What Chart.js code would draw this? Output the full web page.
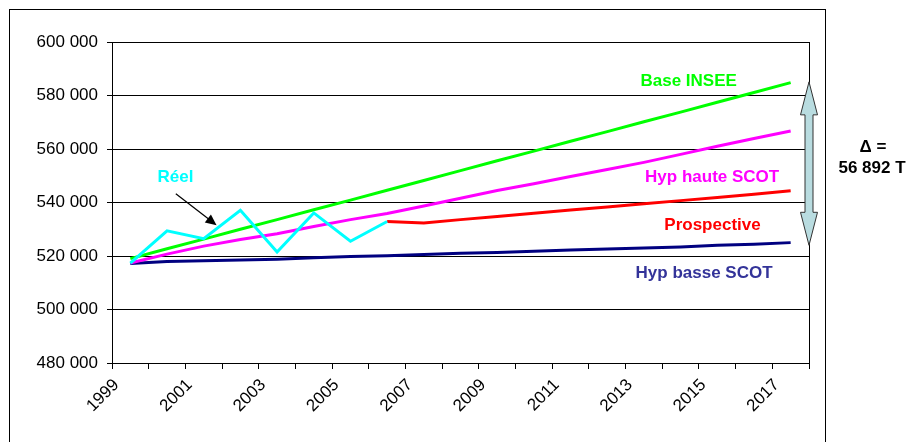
<!DOCTYPE html>
<html>
<head>
<meta charset="utf-8">
<script src="https://cdn.jsdelivr.net/npm/chart.js@4.4.0/dist/chart.umd.min.js"></script>
<style>
  html, body { margin: 0; padding: 0; background: #fff; }
  #wrap { width: 908px; height: 442px; position: relative; }
</style>
</head>
<body>
<div id="wrap"><canvas id="chart"></canvas></div>
<script>
// years on the x axis
const years = ['1999','2000','2001','2002','2003','2004','2005','2006','2007','2008',
               '2009','2010','2011','2012','2013','2014','2015','2016','2017'];

// series
const reel        = [517300, 529400, 526500, 537100, 521500, 536100, 525500, 532900,
                     null, null, null, null, null, null, null, null, null, null, null];
const prospective = [null, null, null, null, null, null, null, 532900, 532300, 533600,
                     534800, 536000, 537200, 538300, 539500, 540700, 541900, 543100, 544400];
const baseInsee   = [519000, 522700, 526300, 530000, 533600, 537300, 540900, 544600, 548200, 551900,
                     555600, 559200, 562900, 566500, 570200, 573800, 577500, 581100, 584800];
const hypHaute    = [517400, 520700, 523700, 526200, 528300, 531000, 533600, 535900, 538700, 541600,
                     544500, 547000, 549700, 552300, 555000, 558000, 561000, 563900, 566700];
const hypBasse    = [517200, 517900, 518200, 518500, 518800, 519300, 519800, 520100, 520600, 521000,
                     521300, 521800, 522200, 522600, 523000, 523400, 524000, 524400, 525000];

const yMin = 480000, yMax = 600000, yStep = 20000;
const deltaText = ['\u0394 =', '56 892 T'];

const FONT = '"Liberation Sans", Arial, sans-serif';

// series names drawn inside the plot (x = category index, y = value)
const seriesLabels = [
  { text: 'R\u00e9el',          x: 1.23,  y: 549400, color: '#00FFFF' },
  { text: 'Base INSEE',     x: 15.22, y: 585400, color: '#00FF00' },
  { text: 'Hyp haute SCOT', x: 15.86, y: 549400, color: '#FF00FF' },
  { text: 'Prospective',    x: 15.87, y: 531500, color: '#FF0000' },
  { text: 'Hyp basse SCOT', x: 15.64, y: 513500, color: '#333399' }
];

const fmt = v => String(v).replace(/\B(?=(\d{3})+(?!\d))/g, ' ');

const overlay = {
  id: 'overlay',
  beforeDraw(chart) {
    const ctx = chart.ctx;
    ctx.save();
    ctx.fillStyle = '#fff';
    ctx.fillRect(0, 0, chart.width, chart.height);
    ctx.strokeStyle = '#000';
    ctx.lineWidth = 1;
    ctx.strokeRect(9.5, 9.5, 816, 460);
    ctx.restore();
  },
  afterDatasetsDraw(chart) {
    const ctx = chart.ctx;
    const xs = chart.scales.x, ys = chart.scales.y;
    const a = chart.chartArea;
    ctx.save();
    // plot frame
    ctx.strokeStyle = '#000';
    ctx.lineWidth = 1;
    ctx.strokeRect(Math.round(a.left) + 0.5, Math.round(a.top) + 0.5,
                   Math.round(a.right - a.left), Math.round(a.bottom - a.top));

    // series names
    ctx.font = 'bold 17px ' + FONT;
    ctx.textAlign = 'center';
    ctx.textBaseline = 'middle';
    seriesLabels.forEach(l => {
      ctx.fillStyle = l.color;
      ctx.fillText(l.text, xs.getPixelForValue(l.x), ys.getPixelForValue(l.y));
    });

    // arrow pointing at the real series
    const x0 = xs.getPixelForValue(1.24), y0 = ys.getPixelForValue(543300);
    const x1 = xs.getPixelForValue(2.35), y1 = ys.getPixelForValue(531500);
    const ang = Math.atan2(y1 - y0, x1 - x0);
    ctx.strokeStyle = '#000';
    ctx.fillStyle = '#000';
    ctx.lineWidth = 1.2;
    ctx.beginPath();
    ctx.moveTo(x0, y0);
    ctx.lineTo(x1 - 8 * Math.cos(ang), y1 - 8 * Math.sin(ang));
    ctx.stroke();
    ctx.beginPath();
    ctx.moveTo(x1, y1);
    ctx.lineTo(x1 - 11 * Math.cos(ang) + 5 * Math.sin(ang), y1 - 11 * Math.sin(ang) - 5 * Math.cos(ang));
    ctx.lineTo(x1 - 11 * Math.cos(ang) - 5 * Math.sin(ang), y1 - 11 * Math.sin(ang) + 5 * Math.cos(ang));
    ctx.closePath();
    ctx.fill();

    // double arrow for the gap between the hypotheses in 2017
    const cx = a.right;
    const top = ys.getPixelForValue(585100), bot = ys.getPixelForValue(524000);
    const hw = 8.5, sw = 4, hl = 33;
    ctx.beginPath();
    ctx.moveTo(cx, top);
    ctx.lineTo(cx + hw, top + hl);
    ctx.lineTo(cx + sw, top + hl);
    ctx.lineTo(cx + sw, bot - hl);
    ctx.lineTo(cx + hw, bot - hl);
    ctx.lineTo(cx, bot);
    ctx.lineTo(cx - hw, bot - hl);
    ctx.lineTo(cx - sw, bot - hl);
    ctx.lineTo(cx - sw, top + hl);
    ctx.lineTo(cx - hw, top + hl);
    ctx.closePath();
    ctx.fillStyle = '#B9DCE0';
    ctx.fill();
    ctx.strokeStyle = '#333';
    ctx.lineWidth = 1;
    ctx.stroke();

    // delta text
    ctx.fillStyle = '#000';
    ctx.font = 'bold 17px ' + FONT;
    ctx.fillText(deltaText[0], 873, 147);
    ctx.fillText(deltaText[1], 872, 168);
    ctx.restore();
  }
};

const line = (data, color) => ({
  data, borderColor: color, backgroundColor: color, borderWidth: 3,
  pointRadius: 0, tension: 0, fill: false, spanGaps: false
});

new Chart(document.getElementById('chart'), {
  type: 'line',
  data: {
    labels: years,
    datasets: [
      line(reel, '#00FFFF'),
      line(prospective, '#FF0000'),
      line(baseInsee, '#00FF00'),
      line(hypHaute, '#FF00FF'),
      line(hypBasse, '#000080')
    ]
  },
  options: {
    responsive: true,
    maintainAspectRatio: false,
    animation: false,
    layout: { padding: { top: 42, right: 99, left: 0, bottom: 0 } },
    plugins: { legend: { display: false }, tooltip: { enabled: false } },
    scales: {
      x: {
        type: 'category',
        offset: true,
        grid: { offset: true, drawOnChartArea: false, drawTicks: true, tickLength: 6, color: '#000' },
        border: { display: true, color: '#000' },
        ticks: {
          autoSkip: false, minRotation: 45, maxRotation: 45, padding: 6, labelOffset: -14,
          color: '#000', font: { family: FONT, size: 17 },
          callback: (v, i) => (i % 2 === 0 ? years[i] : '')
        },
        afterFit: s => { s.height = 79; }
      },
      y: {
        min: yMin, max: yMax,
        grid: { color: '#000', lineWidth: 1, tickLength: 5, drawTicks: true },
        border: { display: true, color: '#000' },
        ticks: { stepSize: yStep, padding: 9, color: '#000', font: { family: FONT, size: 17 },
                 callback: v => fmt(v) },
        afterFit: s => { s.width = 112; }
      }
    }
  },
  plugins: [overlay]
});
</script>
</body>
</html>
